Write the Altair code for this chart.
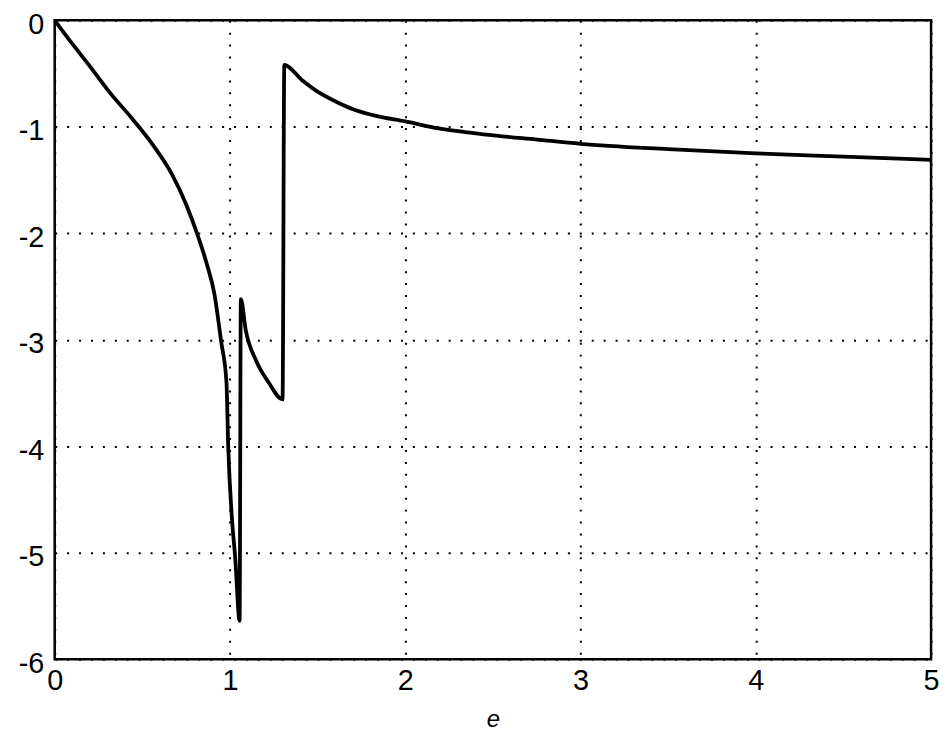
import altair as alt
import pandas as pd

xs = [0, 0.1, 0.2, 0.31, 0.44, 0.56, 0.67, 0.75, 0.82, 0.87, 0.91, 0.95, 0.98, 0.99,
      1.01, 1.03, 1.055, 1.062, 1.09, 1.15, 1.22, 1.30, 1.31, 1.41, 1.50, 1.60,
      1.71, 1.84, 2.0, 2.17, 2.34, 2.5, 2.75, 3.0, 3.5, 4.0, 4.5, 5.0]
ys = [0, -0.22, -0.43, -0.67, -0.92, -1.17, -1.45, -1.73, -2.04, -2.3, -2.56, -3.02, -3.40, -4.0,
      -4.65, -5.05, -5.64, -2.62, -2.91, -3.2, -3.40, -3.56, -0.42, -0.56, -0.67, -0.76,
      -0.84, -0.90, -0.95, -1.01, -1.05, -1.08, -1.12, -1.16, -1.21, -1.25, -1.28, -1.31]
x_ticks = [0, 1, 2, 3, 4, 5]
y_ticks = [0, -1, -2, -3, -4, -5, -6]

df = pd.DataFrame({"x": xs, "y": ys, "i": list(range(len(xs)))})

chart = alt.Chart(df).mark_line(color="black", strokeWidth=3.8, interpolate="monotone").encode(
    x=alt.X("x:Q", scale=alt.Scale(domain=[0, 5], nice=False),
            axis=alt.Axis(values=x_ticks, title="e", titleFontStyle="italic",
                          titleFontWeight="normal", titleFontSize=24, titlePadding=12,
                          labelFontSize=29, labelPadding=8, labelFlush=False,
                          labelExpr="'' + datum.value")),
    y=alt.Y("y:Q", scale=alt.Scale(domain=[-6, 0], nice=False),
            axis=alt.Axis(values=y_ticks, title=None, labelFontSize=29, labelPadding=11,
                          labelFlush=False, labelOffset=4,
                          labelExpr="'' + datum.value")),
    order="i:Q",
).properties(
    width=882, height=643,
    autosize=alt.AutoSizeParams(type="none"),
    padding={"left": 47, "top": 10, "right": 10, "bottom": 80},
).configure_axis(
    grid=True, gridColor="black", gridDash=[2, 10], gridWidth=2, gridOpacity=1,
    domain=False, ticks=False, labelColor="black", titleColor="black",
    labelFont="Liberation Sans", titleFont="Liberation Sans",
).configure_view(
    stroke="black", strokeWidth=2.5
)

chart.save("out.html", embed_options={"renderer": "svg", "actions": False})
